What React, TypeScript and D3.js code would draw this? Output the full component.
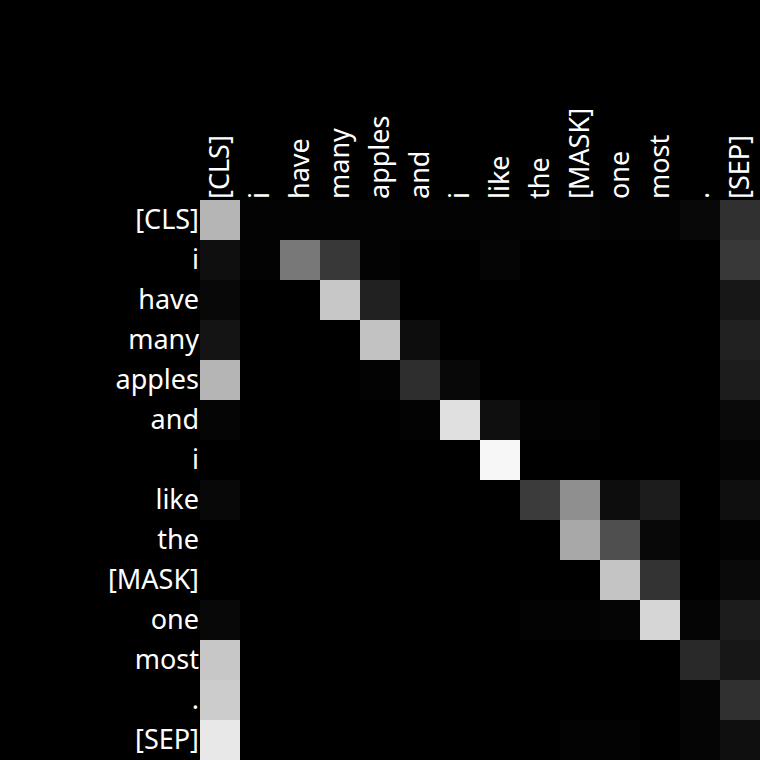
import React, { useEffect, useRef } from 'react';
import * as d3 from 'd3';

const tokens = ['[CLS]', 'i', 'have', 'many', 'apples', 'and', 'i', 'like', 'the', '[MASK]', 'one', 'most', '.', '[SEP]'];

// attention weights, one row per query token (gray level / 255)
const rowCls = [0.71, 0.01, 0.01, 0.01, 0.01, 0.01, 0.01, 0.01, 0.01, 0.02, 0.01, 0.01, 0.03, 0.19];
const rowI = [0.06, 0.01, 0.47, 0.22, 0.01, 0.0, 0.0, 0.02, 0.0, 0.0, 0.0, 0.0, 0.0, 0.22];
const rowHave = [0.03, 0.0, 0.0, 0.78, 0.13, 0.0, 0.0, 0.0, 0.0, 0.0, 0.0, 0.0, 0.0, 0.09];
const rowMany = [0.08, 0.0, 0.0, 0.0, 0.76, 0.05, 0.0, 0.0, 0.0, 0.0, 0.0, 0.0, 0.0, 0.13];
const rowApples = [0.71, 0.0, 0.0, 0.0, 0.01, 0.18, 0.03, 0.0, 0.0, 0.0, 0.0, 0.0, 0.0, 0.11];
const rowAnd = [0.02, 0.0, 0.0, 0.0, 0.0, 0.01, 0.88, 0.06, 0.01, 0.01, 0.0, 0.0, 0.0, 0.04];
const rowI2 = [0.0, 0.0, 0.0, 0.0, 0.0, 0.0, 0.0, 0.97, 0.0, 0.0, 0.0, 0.0, 0.0, 0.02];
const rowLike = [0.03, 0.0, 0.0, 0.0, 0.0, 0.0, 0.0, 0.0, 0.23, 0.56, 0.05, 0.11, 0.0, 0.06];
const rowThe = [0.0, 0.0, 0.0, 0.0, 0.0, 0.0, 0.0, 0.0, 0.0, 0.66, 0.31, 0.03, 0.0, 0.01];
const rowMask = [0.0, 0.0, 0.0, 0.0, 0.0, 0.0, 0.0, 0.0, 0.0, 0.0, 0.77, 0.2, 0.0, 0.04];
const rowOne = [0.03, 0.0, 0.0, 0.0, 0.0, 0.0, 0.0, 0.0, 0.01, 0.01, 0.02, 0.84, 0.02, 0.11];
const rowMost = [0.78, 0.0, 0.0, 0.0, 0.0, 0.0, 0.0, 0.0, 0.0, 0.0, 0.0, 0.0, 0.16, 0.09];
const rowDot = [0.8, 0.0, 0.0, 0.0, 0.0, 0.0, 0.0, 0.0, 0.0, 0.0, 0.0, 0.0, 0.02, 0.19];
const rowSep = [0.91, 0.0, 0.0, 0.0, 0.0, 0.0, 0.0, 0.0, 0.0, 0.01, 0.01, 0.0, 0.02, 0.06];

const matrix = [rowCls, rowI, rowHave, rowMany, rowApples, rowAnd, rowI2, rowLike, rowThe, rowMask, rowOne, rowMost, rowDot, rowSep];

const App = () => {
  const svgRef = useRef<SVGSVGElement>(null);

  useEffect(() => {
    const size = 760;
    const margin = { top: 200, left: 200 };
    const idx = tokens.map((_, i) => i);

    const svg = d3.select(svgRef.current);
    svg.selectAll('*').remove();
    svg.attr('width', size).attr('height', size);

    svg.append('rect').attr('width', size).attr('height', size).attr('fill', 'black');

    const x = d3.scaleBand<number>().domain(idx).range([margin.left, size]);
    const y = d3.scaleBand<number>().domain(idx).range([margin.top, size]);
    const color = d3.scaleLinear<string>().domain([0, 1]).range(['#000000', '#ffffff']);

    const cells = matrix.flatMap((row, r) => row.map((v, c) => ({ r, c, v })));

    svg.append('g')
      .selectAll('rect')
      .data(cells)
      .join('rect')
      .attr('x', d => x(d.c)!)
      .attr('y', d => y(d.r)!)
      .attr('width', x.bandwidth())
      .attr('height', y.bandwidth())
      .attr('fill', d => color(d.v));

    const font = '"Noto Sans", "Open Sans", sans-serif';
    const fontSize = 27;

    // row labels
    svg.append('g')
      .selectAll('text')
      .data(idx)
      .join('text')
      .attr('x', margin.left - 1)
      .attr('y', d => y(d)! + y.bandwidth() / 2)
      .attr('dy', '0.35em')
      .attr('text-anchor', 'end')
      .attr('fill', 'white')
      .attr('font-family', font)
      .attr('font-size', fontSize)
      .text(d => tokens[d]);

    // column labels, rotated
    svg.append('g')
      .selectAll('text')
      .data(idx)
      .join('text')
      .attr('transform', d => `translate(${x(d)! + x.bandwidth() / 2},${margin.top - 1}) rotate(-90)`)
      .attr('dy', '0.35em')
      .attr('text-anchor', 'start')
      .attr('fill', 'white')
      .attr('font-family', font)
      .attr('font-size', fontSize)
      .text(d => tokens[d]);
  }, []);

  return (
    <svg ref={svgRef} style={{ position: 'fixed', left: 0, top: 0, display: 'block' }}></svg>
  );
};

export default App;
